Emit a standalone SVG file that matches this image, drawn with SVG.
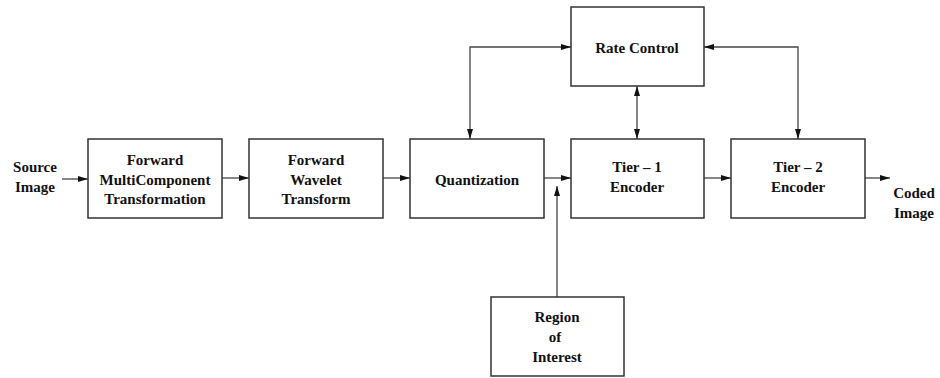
<svg xmlns="http://www.w3.org/2000/svg" width="940" height="378" viewBox="0 0 940 378">
  <style>
    .box { fill: #fff; stroke: #333; stroke-width: 1.5; }
    .wire { fill: none; stroke: #444; stroke-width: 1.3; }
    text { font-family: "Liberation Serif", "Times New Roman", serif; font-weight: bold; font-size: 15px; fill: #111; text-anchor: middle; }
  </style>
  <defs>
    <marker id="ah" viewBox="0 0 10 6" refX="10" refY="3" markerWidth="10" markerHeight="6" markerUnits="userSpaceOnUse" orient="auto-start-reverse">
      <path d="M0,0 L10,3 L0,6 Z" fill="#111"/>
    </marker>
  </defs>

  <rect width="940" height="378" fill="#fff"/>

  <!-- connectors -->
  <g id="connectors">
    <line class="wire" x1="62" y1="179" x2="88" y2="179" marker-end="url(#ah)"/>
    <line class="wire" x1="222" y1="178" x2="249" y2="178" marker-end="url(#ah)"/>
    <line class="wire" x1="383" y1="178" x2="410" y2="178" marker-end="url(#ah)"/>
    <line class="wire" x1="544" y1="178" x2="571" y2="178" marker-end="url(#ah)"/>
    <line class="wire" x1="704" y1="178" x2="731" y2="178" marker-end="url(#ah)"/>
    <line class="wire" x1="865" y1="178" x2="890" y2="178" marker-end="url(#ah)"/>
    <!-- Region of Interest feeds the Tier-1 input -->
    <line class="wire" x1="557" y1="297" x2="557" y2="186" marker-end="url(#ah)"/>
    <!-- rate control feedback paths -->
    <polyline class="wire" points="470,139 470,47 571,47" marker-start="url(#ah)" marker-end="url(#ah)"/>
    <line class="wire" x1="637" y1="86" x2="637" y2="139" marker-start="url(#ah)" marker-end="url(#ah)"/>
    <polyline class="wire" points="704,47 798,47 798,139" marker-start="url(#ah)" marker-end="url(#ah)"/>
  </g>

  <!-- free labels -->
  <g id="source">
    <text x="35" y="172">Source</text>
    <text x="35" y="192">Image</text>
  </g>
  <g id="coded">
    <text x="914" y="198">Coded</text>
    <text x="914" y="218">Image</text>
  </g>

  <!-- nodes -->
  <g id="mct">
    <rect class="box" x="88" y="139" width="134" height="79"/>
    <text x="155" y="165">Forward</text>
    <text x="155" y="185">MultiComponent</text>
    <text x="155" y="204">Transformation</text>
  </g>
  <g id="wavelet">
    <rect class="box" x="249" y="139" width="134" height="79"/>
    <text x="316" y="165">Forward</text>
    <text x="316" y="185">Wavelet</text>
    <text x="316" y="204">Transform</text>
  </g>
  <g id="quantization">
    <rect class="box" x="410" y="139" width="134" height="79"/>
    <text x="477" y="185">Quantization</text>
  </g>
  <g id="tier1">
    <rect class="box" x="571" y="139" width="133" height="79"/>
    <text x="637" y="172">Tier – 1</text>
    <text x="637" y="192">Encoder</text>
  </g>
  <g id="tier2">
    <rect class="box" x="731" y="139" width="134" height="79"/>
    <text x="798" y="172">Tier – 2</text>
    <text x="798" y="192">Encoder</text>
  </g>
  <g id="rate-control">
    <rect class="box" x="571" y="7" width="133" height="79"/>
    <text x="637" y="53">Rate Control</text>
  </g>
  <g id="roi">
    <rect class="box" x="491" y="297" width="133" height="79"/>
    <text x="557" y="322">Region</text>
    <text x="555" y="342">of</text>
    <text x="557" y="362">Interest</text>
  </g>
</svg>
